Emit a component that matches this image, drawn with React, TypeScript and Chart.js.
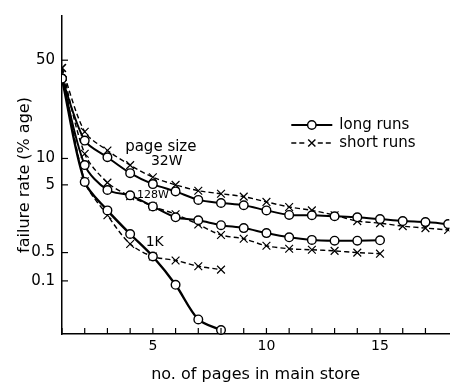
import React, { useEffect, useRef } from 'react';
import { Chart, registerables, LinearScale } from 'chart.js';

Chart.register(...registerables);

// ---------------- data ----------------
const PAGES_32W = [1, 2, 3, 4, 5, 6, 7, 8, 9, 10, 11, 12, 13, 14, 15, 16, 17, 18];
const LONG_32W = [37, 13.4, 10.2, 6.8, 5.1, 4.0, 3.0, 2.7, 2.5, 2.1, 1.8, 1.78, 1.72, 1.66, 1.56, 1.46, 1.41, 1.32];
const SHORT_32W = [44, 15.5, 11.4, 8.4, 6.1, 5.0, 4.1, 3.7, 3.35, 2.8, 2.36, 2.1, 1.78, 1.46, 1.36, 1.23, 1.15, 1.08];

const PAGES_128W = [1, 2, 3, 4, 5, 6, 7, 8, 9, 10, 11, 12, 13, 14, 15];
const LONG_128W = [37, 8.4, 4.2, 3.5, 2.4, 1.66, 1.5, 1.27, 1.15, 0.97, 0.84, 0.77, 0.75, 0.75, 0.76];
const SHORT_128W = [44, 10.8, 5.3, 3.4, 2.4, 1.84, 1.3, 0.91, 0.8, 0.63, 0.57, 0.55, 0.53, 0.5, 0.47];

const PAGES_1K = [1, 2, 3, 4, 5, 6, 7, 8];
const LONG_1K = [37, 5.4, 2.1, 0.94, 0.4, 0.08, 0.011, 0.006];
const SHORT_1K = [44, 5.5, 1.78, 0.67, 0.4, 0.32, 0.23, 0.19];

const Y_TICK_VALUES = [50, 10, 5, 0.5, 0.1];
const Y_TICK_LABELS = ['50', '10', '5', '0.5', '0.1'];
const X_TICK_LABELS = [5, 10, 15];

const LEGEND_LABELS = ['long runs', 'short runs'];

const ANNOTATIONS = [
  { text: 'page size', x: 5.35, y: 12.1, size: 15 },
  { text: '32W', x: 5.61, y: 9.3, size: 14 },
  { text: '128W', x: 5.0, y: 3.47, size: 11 },
  { text: '1K', x: 5.08, y: 0.72, size: 14 },
];

// The printed y axis is not a uniform log scale: these anchors describe
// where each value sits along the axis (0 = bottom, 1 = top).
const Y_WARP_VALUES = [0.005, 0.1, 0.5, 5, 10, 50, 100];
const Y_WARP_POS = [0.0024, 0.167, 0.256, 0.469, 0.552, 0.861, 0.994];

const FONT = "'DejaVu Sans', sans-serif";

function warp(v: number): number {
  const L = Y_WARP_VALUES.map((a) => Math.log10(a));
  const lv = Math.log10(Math.max(v, 1e-9));
  let i = 0;
  if (lv <= L[0]) i = 0;
  else if (lv >= L[L.length - 1]) i = L.length - 2;
  else {
    while (i < L.length - 2 && lv > L[i + 1]) i++;
  }
  const t = (lv - L[i]) / (L[i + 1] - L[i]);
  return Y_WARP_POS[i] + t * (Y_WARP_POS[i + 1] - Y_WARP_POS[i]);
}

function unwarp(p: number): number {
  const L = Y_WARP_VALUES.map((a) => Math.log10(a));
  const P = Y_WARP_POS;
  let i = 0;
  if (p <= P[0]) i = 0;
  else if (p >= P[P.length - 1]) i = P.length - 2;
  else {
    while (i < P.length - 2 && p > P[i + 1]) i++;
  }
  const t = (p - P[i]) / (P[i + 1] - P[i]);
  return Math.pow(10, L[i] + t * (L[i + 1] - L[i]));
}

class WarpedScale extends LinearScale {
  static id = 'warped';
  static defaults = LinearScale.defaults;
  determineDataLimits() {
    (this as any).min = 0;
    (this as any).max = 1;
  }
  buildTicks() {
    return Y_TICK_VALUES.map((v) => ({ value: v }));
  }
  getPixelForValue(value: number) {
    return (this as any).getPixelForDecimal(warp(value));
  }
  getValueForPixel(pixel: number) {
    return unwarp((this as any).getDecimalForPixel(pixel));
  }
}
Chart.register(WarpedScale as any);

const insideTicks = {
  id: 'insideTicks',
  afterDraw(chart: any) {
    const { ctx, chartArea } = chart;
    const x = chart.scales.x;
    const y = chart.scales.y;
    ctx.save();
    ctx.strokeStyle = '#000';
    ctx.lineWidth = 1.2;
    x.ticks.forEach((t: any) => {
      if (!Number.isInteger(t.value)) return;
      const px = x.getPixelForValue(t.value);
      ctx.beginPath();
      ctx.moveTo(px, chartArea.bottom);
      ctx.lineTo(px, chartArea.bottom - 6);
      ctx.stroke();
    });
    y.ticks.forEach((t: any) => {
      const py = y.getPixelForValue(t.value);
      ctx.beginPath();
      ctx.moveTo(chartArea.left, py);
      ctx.lineTo(chartArea.left + 6, py);
      ctx.stroke();
    });
    ctx.restore();
  },
};

const annotationsAndLegend = {
  id: 'annotationsAndLegend',
  afterDraw(chart: any) {
    const { ctx, chartArea } = chart;
    const x = chart.scales.x;
    const y = chart.scales.y;
    ctx.save();
    ctx.fillStyle = '#000';
    ctx.textAlign = 'center';
    ctx.textBaseline = 'middle';
    ANNOTATIONS.forEach((a) => {
      ctx.font = `${a.size}px ${FONT}`;
      ctx.fillText(a.text, x.getPixelForValue(a.x), y.getPixelForValue(a.y));
    });

    // legend
    const lx0 = chartArea.right - 158;
    const lx1 = lx0 + 41;
    const lxm = (lx0 + lx1) / 2;
    const ly = [chartArea.top + 109, chartArea.top + 127];
    ctx.strokeStyle = '#000';
    // long runs
    ctx.lineWidth = 1.8;
    ctx.setLineDash([]);
    ctx.beginPath();
    ctx.moveTo(lx0, ly[0]);
    ctx.lineTo(lx1, ly[0]);
    ctx.stroke();
    ctx.beginPath();
    ctx.arc(lxm, ly[0], 4.2, 0, Math.PI * 2);
    ctx.fillStyle = '#fff';
    ctx.fill();
    ctx.lineWidth = 1.4;
    ctx.stroke();
    // short runs
    ctx.lineWidth = 1.4;
    ctx.setLineDash([5, 3]);
    ctx.beginPath();
    ctx.moveTo(lx0, ly[1]);
    ctx.lineTo(lxm - 6, ly[1]);
    ctx.moveTo(lxm + 6, ly[1]);
    ctx.lineTo(lx1, ly[1]);
    ctx.stroke();
    ctx.setLineDash([]);
    ctx.beginPath();
    ctx.moveTo(lxm - 3.6, ly[1] - 3.6);
    ctx.lineTo(lxm + 3.6, ly[1] + 3.6);
    ctx.moveTo(lxm - 3.6, ly[1] + 3.6);
    ctx.lineTo(lxm + 3.6, ly[1] - 3.6);
    ctx.stroke();

    ctx.fillStyle = '#000';
    ctx.textAlign = 'left';
    ctx.font = `15px ${FONT}`;
    ctx.fillText(LEGEND_LABELS[0], lx1 + 7, ly[0]);
    ctx.fillText(LEGEND_LABELS[1], lx1 + 7, ly[1]);
    ctx.restore();
  },
};

function pts(xs: number[], ys: number[]) {
  return xs.map((x, i) => ({ x, y: ys[i] }));
}

function longSet(label: string, xs: number[], ys: number[], width: number) {
  return {
    label,
    data: pts(xs, ys),
    borderColor: '#000',
    borderWidth: width,
    pointStyle: 'circle',
    pointRadius: 4.3,
    pointBackgroundColor: '#fff',
    pointBorderColor: '#000',
    pointBorderWidth: 1.4,
    tension: 0.3,
    fill: false,
  };
}

function shortSet(label: string, xs: number[], ys: number[]) {
  return {
    label,
    data: pts(xs, ys),
    borderColor: '#000',
    borderWidth: 1.4,
    borderDash: [5, 3],
    pointStyle: 'crossRot',
    pointRadius: 5.5,
    pointBorderColor: '#000',
    pointBorderWidth: 1.2,
    tension: 0.3,
    fill: false,
  };
}

export default function App() {
  const ref = useRef<HTMLCanvasElement | null>(null);

  useEffect(() => {
    if (!ref.current) return;
    const chart = new Chart(ref.current, {
      type: 'line',
      data: {
        datasets: [
          longSet('32W long runs', PAGES_32W, LONG_32W, 2),
          longSet('128W long runs', PAGES_128W, LONG_128W, 2),
          longSet('1K long runs', PAGES_1K, LONG_1K, 2.4),
          shortSet('32W short runs', PAGES_32W, SHORT_32W),
          shortSet('128W short runs', PAGES_128W, SHORT_128W),
          shortSet('1K short runs', PAGES_1K, SHORT_1K),
        ] as any,
      },
      options: {
        responsive: false,
        animation: false,
        layout: { padding: { left: 0, right: 6, top: 10, bottom: 0 } },
        plugins: {
          legend: { display: false },
          tooltip: { enabled: false },
        },
        scales: {
          x: {
            type: 'linear',
            min: 1,
            max: 18.05,
            afterFit: (s: any) => {
              s.height = 52;
            },
            grid: { display: false, drawTicks: false },
            border: { display: true, color: '#000', width: 1.5 },
            ticks: {
              stepSize: 1,
              autoSkip: false,
              maxRotation: 0,
              padding: 4,
              color: '#000',
              font: { family: FONT, size: 14 },
              callback: (v: any) => (X_TICK_LABELS.includes(Number(v)) ? String(v) : ''),
            },
            title: {
              display: true,
              text: 'no. of pages in main store',
              color: '#000',
              font: { family: FONT, size: 16 },
              padding: { top: 0, bottom: 2 },
            },
          },
          y: {
            type: 'warped' as any,
            afterFit: (s: any) => {
              s.width = 62;
            },
            grid: { display: false, drawTicks: false },
            border: { display: true, color: '#000', width: 1.5 },
            ticks: {
              autoSkip: false,
              padding: 7,
              color: '#000',
              font: { family: FONT, size: 15 },
              callback: (_v: any, i: number) => Y_TICK_LABELS[i],
            },
            title: {
              display: true,
              text: 'failure rate (% age)',
              color: '#000',
              font: { family: FONT, size: 16 },
              padding: { top: 15, bottom: 0 },
            },
          } as any,
        },
      },
      plugins: [insideTicks, annotationsAndLegend],
    } as any);
    return () => chart.destroy();
  }, []);

  return (
    <div style={{ position: 'absolute', left: 0, top: 0, width: 456, height: 386, background: '#fff' }}>
      <canvas ref={ref} width={456} height={386} style={{ display: 'block' }} />
    </div>
  );
}
